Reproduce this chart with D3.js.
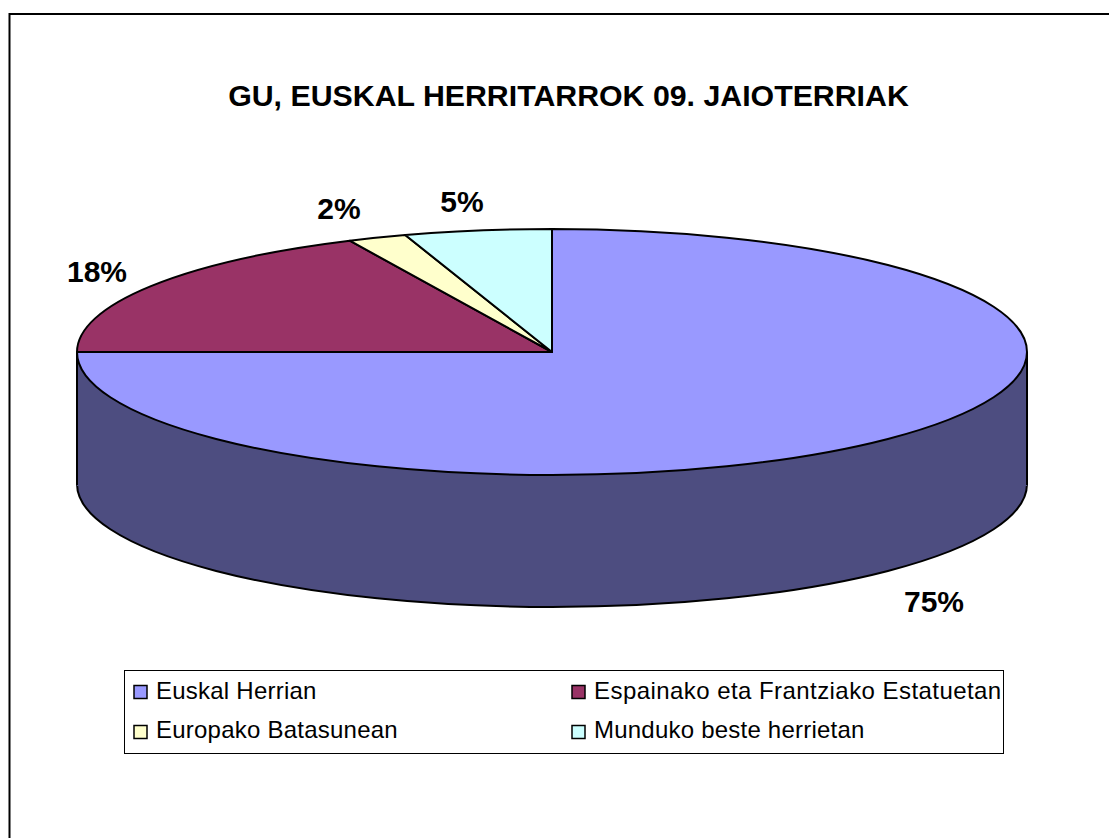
<!DOCTYPE html>
<html><head><meta charset="utf-8">
<script src="https://cdn.jsdelivr.net/npm/d3@7"></script>
<style>html,body{margin:0;padding:0;background:#fff;overflow:hidden}svg{display:block}text{font-family:"Liberation Sans",Arial,sans-serif;fill:#000}</style>
</head><body><script>
const chartTitle = "GU, EUSKAL HERRITARROK 09. JAIOTERRIAK";
const categories = ["Euskal Herrian","Espainako eta Frantziako Estatuetan","Europako Batasunean","Munduko beste herrietan"];
const values = [75,18,2,5];
const colors = ["#9999FF","#993366","#FFFFCC","#CCFFFF"];
const sideColor = "#4D4D80";
const labelPos = [[934,602],[97,272],[339,209],[462,202]];
const legendPos = [[134,156,685.5,699],[572,594,685.5,699],[134,156,725.5,738],[572,594,725.5,738]];
const legendSpacing = [0.23,0.44,0.23,0.22];

const W=1109,H=838,cx=552,cy=352,rx=475,ry=123,depth=132,R=100;
const svg=d3.select("body").append("svg").attr("width",W).attr("height",H);
svg.append("rect").attr("width",W).attr("height",H).attr("fill","#fff");
svg.append("path").attr("d",`M9.5,${H}V14H${W}`).attr("fill","none").attr("stroke","#000").attr("stroke-width",2);

svg.append("text").attr("x",568.5).attr("y",106).attr("text-anchor","middle")
  .attr("font-size",30.3).attr("font-weight","bold").text(chartTitle);

const pie=d3.pie().sort(null).value(d=>d);
const arcs=pie(values);
const arc=d3.arc().innerRadius(0).outerRadius(R);
const scale=`scale(${rx/R},${ry/R})`;

// visible side wall of the first slice (front half of the ellipse, extruded)
const sideArc=d3.arc().innerRadius(0).outerRadius(R).startAngle(Math.PI/2).endAngle(Math.PI*1.5);
svg.append("path").attr("transform",`translate(${cx},${cy+depth}) ${scale}`)
  .attr("d",sideArc()).attr("fill",sideColor).attr("stroke","#000").attr("stroke-width",2).attr("vector-effect","non-scaling-stroke");
svg.append("rect").attr("x",cx-rx).attr("y",cy).attr("width",2*rx).attr("height",depth+2).attr("fill",sideColor);
svg.append("path").attr("d",`M${cx-rx},${cy}V${cy+depth+1}M${cx+rx},${cy}V${cy+depth+1}`).attr("stroke","#000").attr("stroke-width",2).attr("fill","none");

svg.append("g").attr("transform",`translate(${cx},${cy}) ${scale}`)
 .selectAll("path").data(arcs).join("path")
  .attr("d",arc).attr("fill",(d,i)=>colors[i]).attr("stroke","#000").attr("stroke-width",2)
  .attr("stroke-linejoin","round").attr("vector-effect","non-scaling-stroke");

svg.append("g").selectAll("text").data(values).join("text")
  .attr("x",(d,i)=>labelPos[i][0]).attr("y",(d,i)=>labelPos[i][1]+10)
  .attr("text-anchor","middle").attr("font-size",30).attr("font-weight","bold").text(d=>d+"%");

svg.append("rect").attr("x",124.5).attr("y",670.5).attr("width",879).attr("height",83)
  .attr("fill","#fff").attr("stroke","#000").attr("stroke-width",1);
const lg=svg.append("g").selectAll("g").data(categories).join("g");
lg.append("rect").attr("x",(d,i)=>legendPos[i][0]).attr("y",(d,i)=>legendPos[i][2]).attr("width",13).attr("height",13)
  .attr("fill",(d,i)=>colors[i]).attr("stroke","#000").attr("stroke-width",1.5);
lg.append("text").attr("x",(d,i)=>legendPos[i][1]).attr("y",(d,i)=>legendPos[i][3])
  .attr("font-size",24).attr("letter-spacing",(d,i)=>legendSpacing[i]).text(d=>d);
</script></body></html>
